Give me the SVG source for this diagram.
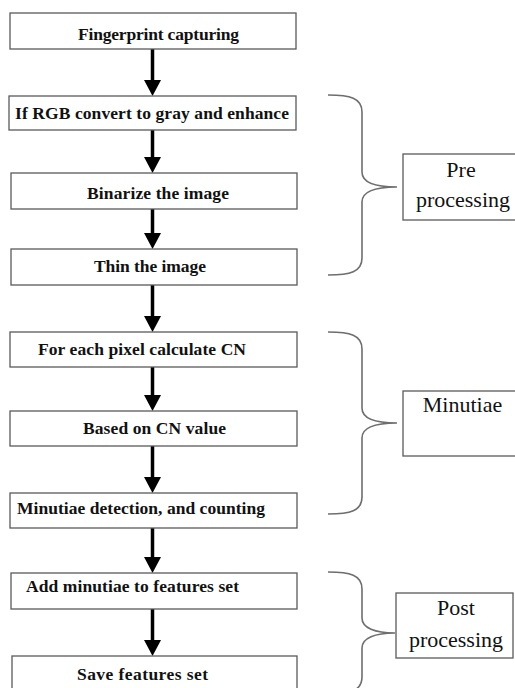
<svg xmlns="http://www.w3.org/2000/svg" width="515" height="688" viewBox="0 0 515 688">
<style>
.box{fill:#fff;stroke:#5a5a5a;stroke-width:1.3}
.lbl{fill:#fff;stroke:#5a5a5a;stroke-width:1.3}
.t{font-family:'Liberation Serif','DejaVu Serif',serif;font-weight:bold;font-size:17.5px;fill:#111}
.s{font-family:'Liberation Serif','DejaVu Serif',serif;font-size:22px;fill:#111;text-anchor:middle}
.arr{stroke:#000;stroke-width:3.5;fill:none}
.brace{fill:none;stroke:#6e6e6e;stroke-width:1.6}
</style>
<defs>
<marker id="ah" markerUnits="userSpaceOnUse" markerWidth="17" markerHeight="18" refX="0" refY="8.5" orient="auto">
<path d="M0,0 L16,8.5 L0,17 z" fill="#000"/>
</marker>
</defs>
<g id="connectors">
<line class="arr" x1="152.5" y1="49" x2="152.5" y2="80" marker-end="url(#ah)"/>
<line class="arr" x1="152.5" y1="130" x2="152.5" y2="157" marker-end="url(#ah)"/>
<line class="arr" x1="152.5" y1="209" x2="152.5" y2="233" marker-end="url(#ah)"/>
<line class="arr" x1="152.5" y1="285" x2="152.5" y2="316" marker-end="url(#ah)"/>
<line class="arr" x1="152.5" y1="367" x2="152.5" y2="395" marker-end="url(#ah)"/>
<line class="arr" x1="152.5" y1="446" x2="152.5" y2="477" marker-end="url(#ah)"/>
<line class="arr" x1="152.5" y1="528" x2="152.5" y2="557" marker-end="url(#ah)"/>
<line class="arr" x1="152.5" y1="609" x2="152.5" y2="640" marker-end="url(#ah)"/>
</g>
<g id="n1"><rect class="box" x="10" y="13" width="286" height="36"/><text class="t" font-family="Liberation Serif" x="78" y="39.5" textLength="161">Fingerprint capturing</text></g>
<g id="n2"><rect class="box" x="9" y="96" width="287" height="34"/><text class="t" font-family="Liberation Serif" x="15" y="119" textLength="274">If RGB convert to gray and enhance</text></g>
<g id="n3"><rect class="box" x="11" y="173" width="286" height="36"/><text class="t" font-family="Liberation Serif" x="87" y="199" textLength="142">Binarize the image</text></g>
<g id="n4"><rect class="box" x="11" y="249" width="286" height="36"/><text class="t" font-family="Liberation Serif" x="94" y="272" textLength="112">Thin the image</text></g>
<g id="n5"><rect class="box" x="10" y="332" width="287" height="35"/><text class="t" font-family="Liberation Serif" x="38" y="355" textLength="208">For each pixel calculate CN</text></g>
<g id="n6"><rect class="box" x="10" y="411" width="287" height="35"/><text class="t" font-family="Liberation Serif" x="83" y="434" textLength="143">Based on CN value</text></g>
<g id="n7"><rect class="box" x="10" y="493" width="287" height="35"/><text class="t" font-family="Liberation Serif" x="17" y="514" textLength="248">Minutiae detection, and counting</text></g>
<g id="n8"><rect class="box" x="11" y="573" width="286" height="36"/><text class="t" font-family="Liberation Serif" x="26" y="592" textLength="213">Add minutiae to features set</text></g>
<g id="n9"><rect class="box" x="12" y="656" width="285" height="40"/><text class="t" font-family="Liberation Serif" x="77" y="680" textLength="131">Save features set</text></g>
<g id="brace-pre"><path class="brace" d="M328,95 C350,95 362,98 362,112 L362,172 C362,182 375,187 397,187 C375,187 362,192 362,202 L362,258 C362,272 350,275 328,275"/></g>
<g id="brace-min"><path class="brace" d="M328,332 C350,332 362,335 362,349 L362,408 C362,418 375,423 397,423 C375,423 362,428 362,438 L362,497 C362,511 350,514 328,514"/></g>
<g id="brace-post"><path class="brace" d="M328,572 C350,572 362,575 362,589 L362,618 C362,628 375,633 395,633 C375,633 362,638 362,648 L362,677 C362,691 350,694 328,694"/></g>
<g id="pre"><rect class="lbl" x="403" y="154" width="130" height="66"/><text class="s" font-family="Liberation Serif" x="461" y="177">Pre</text><text class="s" font-family="Liberation Serif" x="463" y="207">processing</text></g>
<g id="minutiae"><rect class="lbl" x="403" y="391" width="130" height="65"/><text class="s" font-family="Liberation Serif" x="462.5" y="412">Minutiae</text></g>
<g id="post"><rect class="lbl" x="396" y="593" width="117" height="65"/><text class="s" font-family="Liberation Serif" x="456" y="615">Post</text><text class="s" font-family="Liberation Serif" x="456" y="647">processing</text></g>
</svg>
